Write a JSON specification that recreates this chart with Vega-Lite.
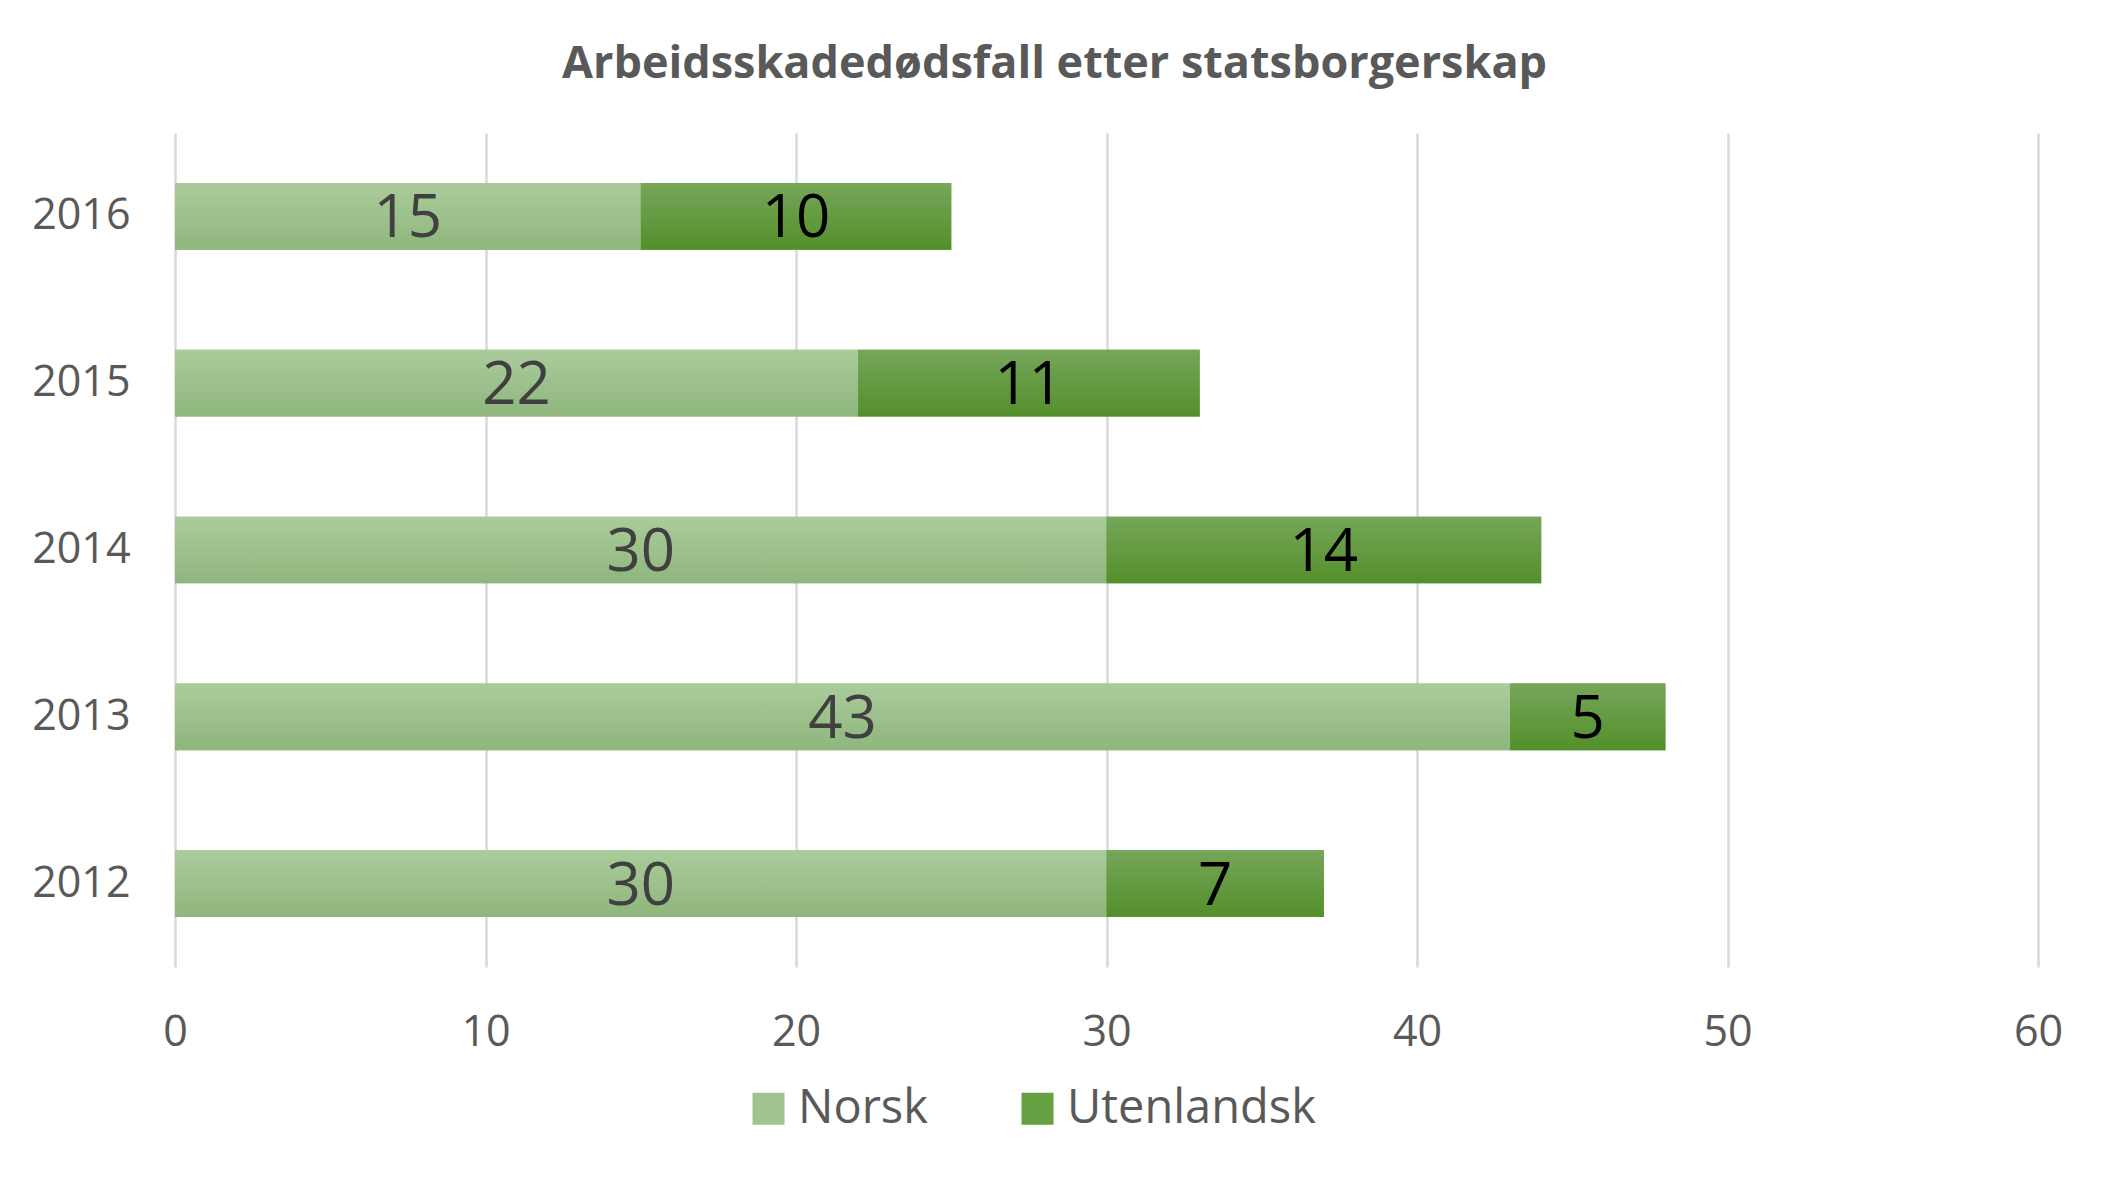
{
  "$schema": "https://vega.github.io/schema/vega-lite/v6.json",
  "width": 1863,
  "height": 834,
  "autosize": {"type": "none"},
  "padding": {"left": 175, "top": 133, "right": 76, "bottom": 217},
  "config": {"view": {"stroke": null}, "font": "Open Sans"},
  "title": {
    "text": "Arbeidsskadedødsfall etter statsborgerskap",
    "fontSize": 45,
    "font": "Open Sans",
    "fontWeight": "bold",
    "color": "#595959",
    "anchor": "middle",
    "dx": -52,
    "offset": 46
  },
  "data": {
    "values": [
      {"year": "2016", "series": "Norsk", "value": 15},
      {"year": "2016", "series": "Utenlandsk", "value": 10},
      {"year": "2015", "series": "Norsk", "value": 22},
      {"year": "2015", "series": "Utenlandsk", "value": 11},
      {"year": "2014", "series": "Norsk", "value": 30},
      {"year": "2014", "series": "Utenlandsk", "value": 14},
      {"year": "2013", "series": "Norsk", "value": 43},
      {"year": "2013", "series": "Utenlandsk", "value": 5},
      {"year": "2012", "series": "Norsk", "value": 30},
      {"year": "2012", "series": "Utenlandsk", "value": 7}
    ]
  },
  "transform": [
    {"stack": "value", "groupby": ["year"], "sort": [{"field": "series", "order": "ascending"}], "as": ["x0", "x1"]}
  ],
  "encoding": {
    "y": {
      "field": "year",
      "type": "nominal",
      "sort": "descending",
      "scale": {"paddingInner": 0.6, "paddingOuter": 0.3},
      "axis": {
        "title": null,
        "ticks": false,
        "domain": false,
        "grid": false,
        "labelFontSize": 43,
        "labelColor": "#595959",
        "labelPadding": 45
      }
    }
  },
  "layer": [
    {
      "mark": {"type": "bar"},
      "encoding": {
        "x": {
          "field": "x0",
          "type": "quantitative",
          "scale": {"domain": [0, 60], "nice": false},
          "axis": {
            "title": null,
            "values": [0, 10, 20, 30, 40, 50, 60],
            "domain": false,
            "ticks": false,
            "grid": true,
            "gridColor": "#d9d9d9",
            "gridWidth": 2.5,
            "labelFontSize": 43,
            "labelColor": "#595959",
            "labelPadding": 44,
            "labelFlush": false
          }
        },
        "x2": {"field": "x1"},
        "color": {
          "field": "series",
          "type": "nominal",
          "scale": {"domain": ["Norsk", "Utenlandsk"], "range": ["#9fc48f", "#65a042"]},
          "legend": {
            "title": null,
            "orient": "none",
            "legendX": 570,
            "legendY": 952,
            "direction": "horizontal",
            "symbolType": "square",
            "symbolSize": 1024,
            "symbolStrokeWidth": 0,
            "labelFontSize": 47,
            "labelColor": "#595959",
            "labelOffset": 6,
            "labelLimit": 500,
            "columnPadding": 86,
            "padding": 0
          }
        }
      }
    },
    {
      "mark": {"type": "bar"},
      "encoding": {
        "x": {"field": "x0", "type": "quantitative"},
        "x2": {"field": "x1"},
        "fill": {
          "condition": {
            "test": "datum.series === 'Norsk'",
            "value": {"gradient": "linear", "x1": 0, "y1": 0, "x2": 0, "y2": 1, "stops": [{"offset": 0, "color": "#aacc9b"}, {"offset": 1, "color": "#8fb67d"}]}
          },
          "value": {"gradient": "linear", "x1": 0, "y1": 0, "x2": 0, "y2": 1, "stops": [{"offset": 0, "color": "#76a65a"}, {"offset": 1, "color": "#538f2b"}]}
        }
      }
    },
    {
      "transform": [
        {"fold": ["x0", "x1"], "as": ["edge", "pos"]},
        {"aggregate": [{"op": "mean", "field": "pos", "as": "mid"}], "groupby": ["year", "series", "value"]}
      ],
      "mark": {"type": "text", "fontSize": 60, "baseline": "middle", "align": "center", "dy": 3},
      "encoding": {
        "x": {"field": "mid", "type": "quantitative"},
        "text": {"field": "value", "type": "quantitative"},
        "color": {
          "condition": {"test": "datum.series === 'Norsk'", "value": "#404040"},
          "value": "#000000"
        }
      }
    }
  ]
}
